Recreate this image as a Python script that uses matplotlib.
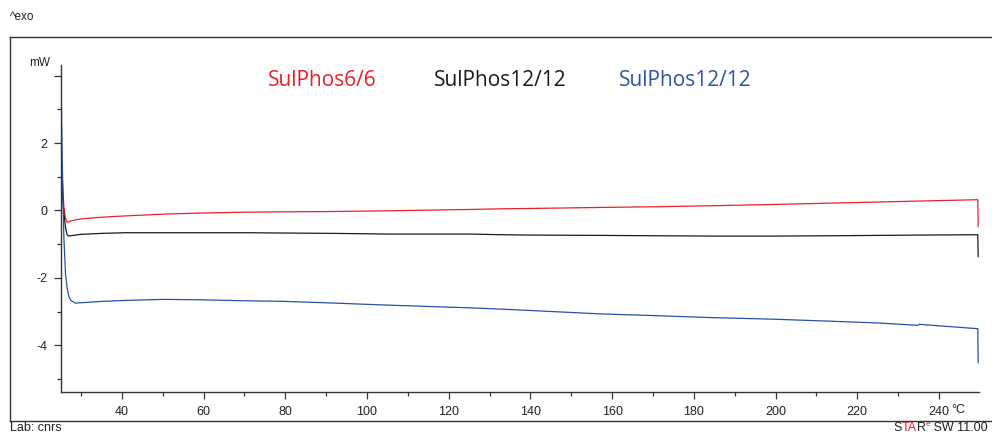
import matplotlib
matplotlib.use('Agg')
from matplotlib import pyplot as plt
from matplotlib.lines import Line2D
from matplotlib.ticker import MultipleLocator

plt.rcParams['font.family'] = ['Liberation Sans', 'DejaVu Sans']

W, H = 992, 436

# temperature (°C) and heat flow (mW)
temp = [25.1, 25.4, 25.8, 26.2, 26.6, 27.0, 27.5, 28.6, 30, 35, 41, 50, 58, 70, 80,
        92, 105, 125, 133, 140, 157, 170, 184, 200, 214, 225, 234.9, 235.1, 249.5, 249.6]
sulphos6 = [1.63, 1.0, 0.10, -0.22, -0.35, -0.34, -0.31, -0.28, -0.25, -0.20, -0.16,
            -0.11, -0.08, -0.05, -0.04, -0.03, -0.01, 0.03, 0.05, 0.06, 0.09, 0.11,
            0.14, 0.18, 0.22, 0.25, 0.28, 0.28, 0.32, -0.47]
sulphos12_a = [1.3, 0.6, -0.1, -0.5, -0.72, -0.76, -0.75, -0.73, -0.71, -0.68, -0.66,
               -0.66, -0.66, -0.66, -0.67, -0.68, -0.70, -0.70, -0.72, -0.73, -0.74,
               -0.75, -0.76, -0.76, -0.75, -0.74, -0.73, -0.73, -0.72, -1.37]
sulphos12_b = [3.86, 1.5, -0.8, -1.87, -2.3, -2.55, -2.67, -2.75, -2.74, -2.70, -2.67,
               -2.64, -2.65, -2.68, -2.70, -2.75, -2.81, -2.89, -2.93, -2.97, -3.07,
               -3.12, -3.18, -3.23, -3.29, -3.34, -3.41, -3.38, -3.51, -4.51]

series = [
    ('SulPhos6/6', sulphos6, '#e8202a', '#e8202a'),
    ('SulPhos12/12', sulphos12_a, '#1a1a1a', '#1a1a1a'),
    ('SulPhos12/12', sulphos12_b, '#2650a6', '#2f55a0'),
]
label_x = [322, 500, 685]

x_major = [40, 60, 80, 100, 120, 140, 160, 180, 200, 220, 240]
y_major = [-4, -2, 0, 2, 4]
y_labels = ['-4', '-2', '0', '2', '']

fig = plt.figure(figsize=(W / 100, H / 100), dpi=100)


def px(x, y):
    return x / W, 1 - y / H


# outer frame (open on the right)
fc = '#333333'
for xs, ys in [((10, 10), (37, 421)), ((10, 1000), (37, 37)), ((10, 1000), (421, 421))]:
    p0, p1 = px(xs[0], ys[0]), px(xs[1], ys[1])
    fig.add_artist(Line2D([p0[0], p1[0]], [p0[1], p1[1]], color=fc, lw=1.0,
                          transform=fig.transFigure))

l, t = px(61, 65)
r, b = px(979, 392)
ax = fig.add_axes([l, b, r - l, t - b])

for name, vals, col, _ in series:
    ax.plot(temp, vals, color=col, lw=0.9)

ax.set_xlim(25.1, 249.8)
ax.set_ylim(-5.39, 4.32)
for s in ['top', 'right']:
    ax.spines[s].set_visible(False)
for s in ['left', 'bottom']:
    ax.spines[s].set_color(fc)
    ax.spines[s].set_linewidth(1.0)

ax.set_xticks(x_major)
ax.set_xticklabels([str(v) for v in x_major])
ax.xaxis.set_minor_locator(MultipleLocator(10))
ax.set_yticks(y_major)
ax.set_yticklabels(y_labels)
ax.yaxis.set_minor_locator(MultipleLocator(1))
ax.tick_params(which='major', length=5, width=0.9, color=fc, labelsize=9,
               labelcolor='#222222', pad=5)
ax.tick_params(which='minor', length=3, width=0.9, color=fc)

for (name, _, _, tc), xc in zip(series, label_x):
    fig.text(*px(xc, 81), name, color=tc, fontsize=15, family='Open Sans',
             ha='center', va='center')

fig.text(*px(10, 17), '^exo', fontsize=8.5, color='#222222', va='center')
fig.text(*px(50, 63), 'mW', fontsize=8.5, color='#222222', ha='right', va='center')
fig.text(*px(958, 410), '°C', fontsize=9, color='#222222', ha='center', va='center')
fig.text(*px(10, 428), 'Lab: cnrs', fontsize=9, color='#222222', va='center')

# software tag, right aligned at the bottom edge
renderer = fig.canvas.get_renderer()
x_cur = 988
parts = [(' SW 11.00', '#222222', 9, 428), ('e', '#e8202a', 6, 424),
         ('R', '#222222', 9, 428), ('TA', '#e8202a', 9, 428), ('S', '#222222', 9, 428)]
for txt, col, fs, yy in parts:
    tobj = fig.text(*px(x_cur, yy), txt, fontsize=fs, color=col, ha='right', va='center')
    bb = tobj.get_window_extent(renderer)
    x_cur -= bb.width

fig.savefig('out.png', dpi=100)
